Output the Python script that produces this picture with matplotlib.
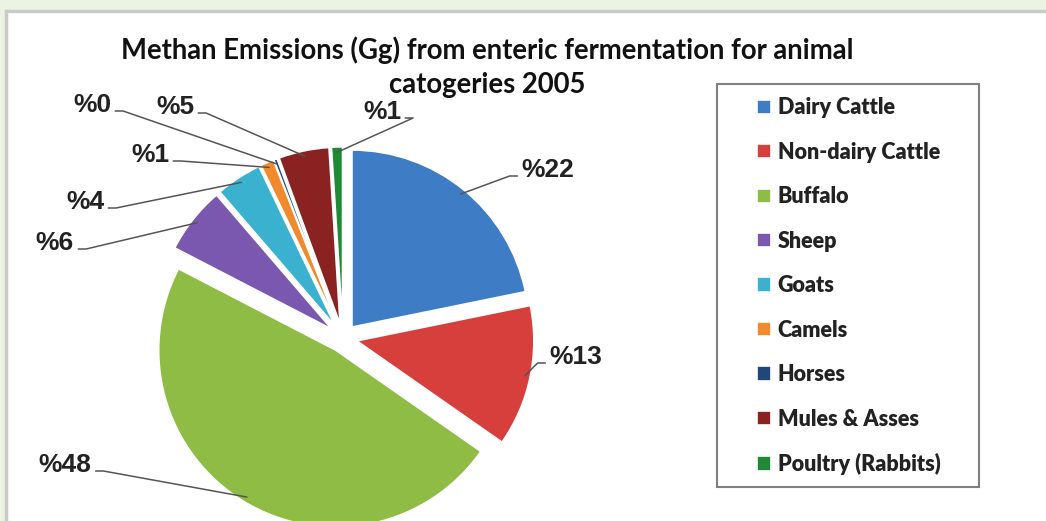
import numpy as np
import matplotlib.pyplot as plt
from matplotlib.patches import Rectangle

# Methane emissions from enteric fermentation, share per animal category (%)
categories = ['Dairy Cattle', 'Non-dairy Cattle', 'Buffalo', 'Sheep', 'Goats',
              'Camels', 'Horses', 'Mules & Asses', 'Poultry (Rabbits)']
shares = [21.8, 12.9, 47.9, 6.1, 4.2, 1.2, 0.3, 4.6, 1.0]
colors = ['#3f7cc6', '#d63f3c', '#8fbc45', '#7b58b0', '#3ab2cf',
          '#f08a2c', '#23467a', '#8a2222', '#1f8a35']

# where each percentage label sits (figure pixels, from top-left)
label_pos = [(548, 170), (576, 357), (65, 465), (55, 243), (85, 202),
             (150, 155), (92, 105), (175, 107), (382, 112)]

title_lines = ['Methan Emissions (Gg) from enteric fermentation for animal',
               'catogeries 2005']

W, H = 1046, 521
R = 177          # pie radius in pixels
cx, cy = 343, 338

fig = plt.figure(figsize=(W / 100, H / 100), dpi=100, facecolor='#ebf3e3')
fig.add_artist(Rectangle((6 / W, -0.1), 1.1, (H - 11) / H + 0.1,
                         transform=fig.transFigure, facecolor='white',
                         edgecolor='#cacaca', lw=2.5, zorder=-5))

half = 250
ax = fig.add_axes([(cx - half) / W, (H - cy - half) / H, 2 * half / W, 2 * half / H])

explode = [0.08] * len(shares)
wedges, _ = ax.pie(shares, colors=colors, explode=explode, startangle=90,
                   counterclock=False, radius=1,
                   wedgeprops=dict(edgecolor='white', linewidth=1.2))
# pie() resets the limits, so fix the scale afterwards
ax.set_xlim(-half / R, half / R)
ax.set_ylim(-half / R, half / R)
ax.axis('off')

for w, v, (tx, ty) in zip(wedges, shares, label_pos):
    mid = np.deg2rad((w.theta1 + w.theta2) / 2)
    ox, oy = w.center
    ax_x = ox + 0.97 * np.cos(mid)
    ax_y = oy + 0.97 * np.sin(mid)
    on_right = tx > cx + 100
    ax.annotate(f'%{round(v)}', xy=(ax_x, ax_y), xytext=(tx, H - ty),
                textcoords='figure pixels', ha='center', va='center',
                fontsize=19, fontweight='bold', family='Liberation Sans',
                color='#222222', annotation_clip=False,
                arrowprops=dict(arrowstyle='-', color='#555555', lw=1.1,
                                shrinkA=1, shrinkB=0,
                                relpos=(0, 0.25) if on_right else (1, 0.25),
                                connectionstyle=f"arc,angleA={180 if on_right else 0},"
                                                "armA=12,angleB=0,armB=0,rad=0"))

for line, y in zip(title_lines, [50, 85]):
    fig.text(487 / W, 1 - y / H, line, ha='center', va='center',
             fontsize=19.8, fontweight='bold', family='Lato', color='#111111')

# legend box
fig.add_artist(Rectangle((717 / W, 1 - 487 / H), (979 - 717) / W, (487 - 84) / H,
                         transform=fig.transFigure, facecolor='white',
                         edgecolor='#808080', lw=1.5))
fig.legend(wedges, categories, loc='upper left',
           bbox_to_anchor=(738 / W, 1 - 78 / H), frameon=False,
           prop=dict(family='Lato', weight='heavy', size=15.5),
           handlelength=0.65, handleheight=0.65, handletextpad=0.3,
           labelspacing=1.09, labelcolor='#222222')

fig.savefig('out.png', dpi=100, facecolor=fig.get_facecolor())
